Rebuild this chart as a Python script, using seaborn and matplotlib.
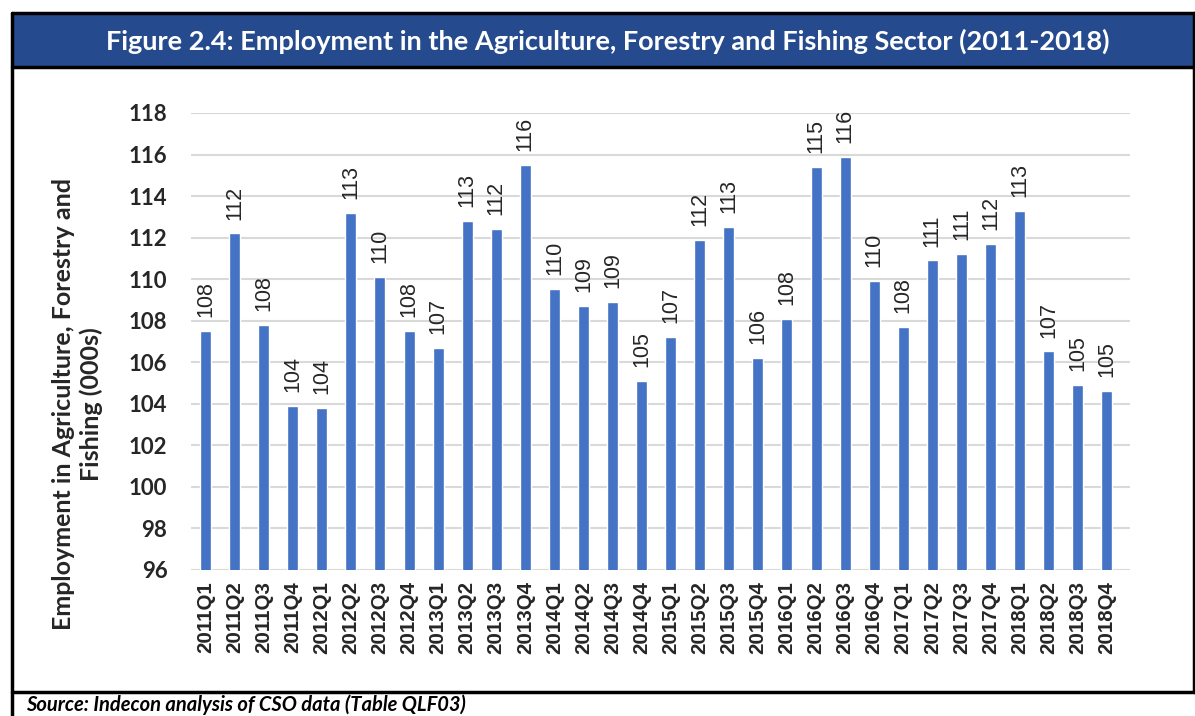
import matplotlib
matplotlib.use("Agg")
import matplotlib.pyplot as plt
import seaborn as sns
import pandas as pd
from matplotlib.patches import Rectangle
from matplotlib.lines import Line2D

quarters = [
    "2011Q1", "2011Q2", "2011Q3", "2011Q4",
    "2012Q1", "2012Q2", "2012Q3", "2012Q4",
    "2013Q1", "2013Q2", "2013Q3", "2013Q4",
    "2014Q1", "2014Q2", "2014Q3", "2014Q4",
    "2015Q1", "2015Q2", "2015Q3", "2015Q4",
    "2016Q1", "2016Q2", "2016Q3", "2016Q4",
    "2017Q1", "2017Q2", "2017Q3", "2017Q4",
    "2018Q1", "2018Q2", "2018Q3", "2018Q4",
]
employment = [
    107.52, 112.2, 107.8, 103.9,
    103.8, 113.2, 110.1, 107.52,
    106.7, 112.8, 112.4, 115.52,
    109.52, 108.7, 108.9, 105.1,
    107.2, 111.9, 112.52, 106.2,
    108.1, 115.4, 115.9, 109.9,
    107.7, 110.9, 111.2, 111.7,
    113.3, 106.52, 104.9, 104.6,
]
yticks = [96, 98, 100, 102, 104, 106, 108, 110, 112, 114, 116, 118]

title = "Figure 2.4: Employment in the Agriculture, Forestry and Fishing Sector (2011-2018)"
ylabel = "Employment in Agriculture, Forestry and\nFishing (000s)"
source = "Source: Indecon analysis of CSO data (Table QLF03)"

W, H = 1195, 716
sns.set_theme(style="white")
plt.rcParams["font.family"] = ["Lato", "DejaVu Sans"]

fig = plt.figure(figsize=(W / 100, H / 100), dpi=100)

def fx(px):
    return px / W

def fy(py):
    return 1 - py / H

# frame decorations
blue = "#254A8E"
fig.patches.append(Rectangle((fx(12), fy(67)), fx(1194) - fx(12), fy(13) - fy(67),
                             transform=fig.transFigure, facecolor=blue, edgecolor="none", zorder=0))
lw = 2.5
for (x0, y0, x1, y1) in [(12, 13, 1195, 13), (12, 67, 1195, 67), (12, 692, 1195, 692),
                         (12, 13, 12, 716), (1193.5, 13, 1193.5, 692)]:
    fig.lines.append(Line2D([fx(x0), fx(x1)], [fy(y0), fy(y1)], transform=fig.transFigure,
                            color="black", linewidth=lw, zorder=5))

fig.text(fx(608), fy(41), title, color="white", fontsize=19.5, fontweight="bold",
         ha="center", va="center", family=["Lato", "DejaVu Sans"])
fig.text(fx(26), fy(711), source, color="black", fontsize=14.5, fontweight="bold",
         style="italic", ha="left", va="baseline", family=["Lato", "DejaVu Sans"])

ax = fig.add_axes([fx(191), fy(570), fx(1130) - fx(191), fy(113) - fy(570)])
df = pd.DataFrame({"quarter": quarters, "value": employment})
sns.barplot(data=df, x="quarter", y="value", color="#4472C4", saturation=1,
            width=0.38, ax=ax, zorder=3)
ax.set_ylim(96, 118)
ax.set_xlim(-0.5, 31.8)
ax.set_yticks(yticks)
ax.yaxis.grid(True, color="#D9D9D9", linewidth=1.5, zorder=0)
ax.xaxis.grid(False)
for s in ax.spines.values():
    s.set_visible(False)
ax.tick_params(axis="both", length=0)
ax.tick_params(axis="y", pad=17)
ax.tick_params(axis="x", pad=8)
for lab in ax.get_yticklabels():
    lab.set_fontsize(16)
    lab.set_fontweight("bold")
    lab.set_family(["Lato", "DejaVu Sans"])
for lab in ax.get_xticklabels():
    lab.set_rotation(90)
    lab.set_fontsize(14.8)
    lab.set_fontweight("bold")
    lab.set_family(["Liberation Sans", "DejaVu Sans"])
ax.set_xlabel("")
ax.set_ylabel(ylabel, fontsize=18, fontweight="bold", linespacing=1.2,
              family=["Lato", "DejaVu Sans"])
ax.yaxis.set_label_coords(-0.094, 0.363)

for c in ax.containers:
    ax.bar_label(c, fmt="%.0f", rotation=90, padding=10, fontsize=15.5,
                 family=["Liberation Sans", "DejaVu Sans"])

fig.savefig("out.png", dpi=100)
